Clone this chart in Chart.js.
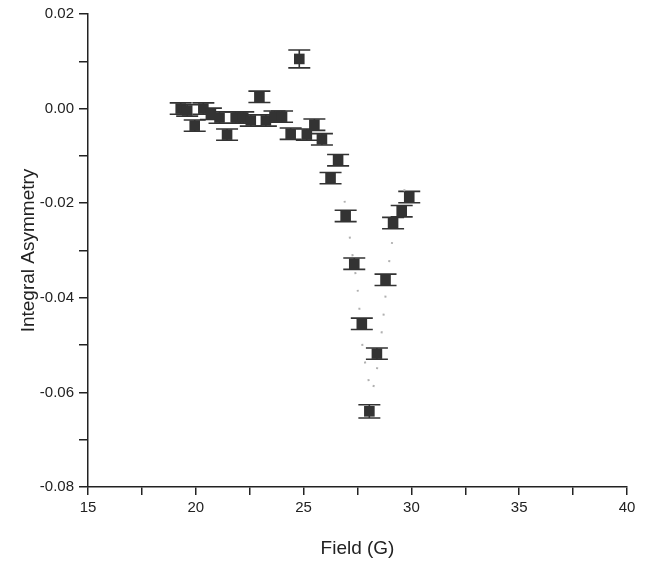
<!DOCTYPE html>
<html>
<head>
<meta charset="utf-8">
<script src="https://cdn.jsdelivr.net/npm/chart.js@4/dist/chart.umd.min.js"></script>
<style>
  body { margin: 0; background: #fff; }
</style>
</head>
<body>
<canvas id="chart" width="645" height="564"></canvas>
<script>
const field = [19.3, 19.6, 19.95, 20.35, 20.7, 21.1, 21.45, 21.85, 22.2, 22.55, 22.95, 23.25, 23.65, 24.0, 24.4,
               24.8, 25.15, 25.5, 25.85, 26.25, 26.6, 26.95, 27.35, 27.7, 28.05, 28.4, 28.8, 29.15, 29.55, 29.9];
const asym = [0.0000, -0.0004, -0.0036, 0.0000, -0.0011, -0.0019, -0.0055, -0.0019, -0.0019, -0.0025, 0.0025, -0.0025, -0.0017, -0.0017, -0.0053,
              0.0105, -0.0055, -0.0034, -0.0065, -0.0147, -0.0109, -0.0227, -0.0328, -0.0455, -0.0640, -0.0518, -0.0362, -0.0242, -0.0217, -0.0187];
const asymErr = [0.0012, 0.0012, 0.0012, 0.0012, 0.0012, 0.0012, 0.0012, 0.0012, 0.0012, 0.0012, 0.0012, 0.0012, 0.0012, 0.0012, 0.0012,
                 0.0019, 0.0012, 0.0012, 0.0012, 0.0012, 0.0012, 0.0012, 0.0012, 0.0012, 0.0014, 0.0012, 0.0012, 0.0012, 0.0012, 0.0012];

// dotted fit curve
const fitField = [26.9, 27.2, 27.5, 27.75, 27.95, 28.15, 28.4, 28.65, 28.95, 29.1, 29.45, 29.8];
const fitAsym = [-0.0195, -0.0290, -0.0380, -0.0510, -0.0558, -0.0598, -0.0552, -0.0461, -0.0331, -0.0284, -0.0210, -0.0152];

const xTicks = [15, 20, 25, 30, 35, 40];
const yTicks = [0.02, 0.00, -0.02, -0.04, -0.06, -0.08];

const ink = "#222";
const font = "'Liberation Sans', Arial, sans-serif";

const errorBars = {
  id: "errorBars",
  beforeDatasetsDraw(chart) {
    const ctx = chart.ctx;
    const xs = chart.scales.x, ys = chart.scales.y;
    ctx.save();
    ctx.strokeStyle = "#333";
    ctx.lineWidth = 1.6;
    field.forEach((f, i) => {
      const px = xs.getPixelForValue(f);
      const top = ys.getPixelForValue(asym[i] + asymErr[i]);
      const bot = ys.getPixelForValue(asym[i] - asymErr[i]);
      ctx.beginPath();
      ctx.moveTo(px, top); ctx.lineTo(px, bot);
      ctx.moveTo(px - 11, top); ctx.lineTo(px + 11, top);
      ctx.moveTo(px - 11, bot); ctx.lineTo(px + 11, bot);
      ctx.stroke();
    });
    ctx.restore();
  }
};

const isMajor = (v, step) => Math.abs(Math.round(v / step) - v / step) < 1e-6;

new Chart("chart", {
  type: "scatter",
  data: {
    datasets: [
      {
        label: "data",
        data: field.map((f, i) => ({x: f, y: asym[i]})),
        pointStyle: "rect",
        pointRadius: 7.5,
        backgroundColor: "#333",
        borderColor: "#333",
        borderWidth: 0,
        order: 1
      },
      {
        label: "fit",
        type: "line",
        data: fitField.map((f, i) => ({x: f, y: fitAsym[i]})),
        borderColor: "#b0b0b0",
        borderWidth: 2,
        borderDash: [2, 16],
        pointRadius: 0,
        tension: 0.3,
        fill: false,
        order: 2
      }
    ]
  },
  options: {
    responsive: false,
    animation: false,
    devicePixelRatio: 1,
    layout: { padding: { top: 13, right: 18, left: 0, bottom: 0 } },
    plugins: { legend: { display: false }, tooltip: { enabled: false } },
    scales: {
      x: {
        type: "linear",
        min: 15, max: 40,
        afterFit: (s) => { s.height = 77; },
        afterBuildTicks: (s) => { s.ticks = [15, 17.5, 20, 22.5, 25, 27.5, 30, 32.5, 35, 37.5, 40].map(v => ({value: v})); },
        border: { display: true, color: ink, width: 1.5 },
        grid: { drawOnChartArea: false, drawTicks: true, tickLength: 8, color: ink, lineWidth: 1.5 },
        ticks: {
          color: ink, padding: 4, maxRotation: 0, autoSkip: false,
          font: { family: font, size: 15 },
          callback: (v) => xTicks.includes(v) ? String(v) : ""
        },
        title: { display: true, text: "Field (G)", color: ink, font: { family: font, size: 19 }, padding: { top: 0, bottom: 4 } }
      },
      y: {
        type: "linear",
        min: -0.08, max: 0.02,
        afterFit: (s) => { s.width = 88; },
        afterBuildTicks: (s) => { s.ticks = [0.02, 0.01, 0, -0.01, -0.02, -0.03, -0.04, -0.05, -0.06, -0.07, -0.08].map(v => ({value: v})); },
        border: { display: true, color: ink, width: 1.5 },
        grid: { drawOnChartArea: false, drawTicks: true, tickLength: 9, color: ink, lineWidth: 1.5 },
        ticks: {
          color: ink, padding: 5, autoSkip: false,
          font: { family: font, size: 15 },
          callback: (v) => isMajor(v, 0.02) ? (Math.abs(v) < 1e-9 ? "0.00" : v.toFixed(2)) : ""
        },
        title: { display: true, text: "Integral Asymmetry", color: ink, font: { family: font, size: 19 }, padding: { top: 17, bottom: 0 } }
      }
    }
  },
  plugins: [errorBars]
});
</script>
</body>
</html>
